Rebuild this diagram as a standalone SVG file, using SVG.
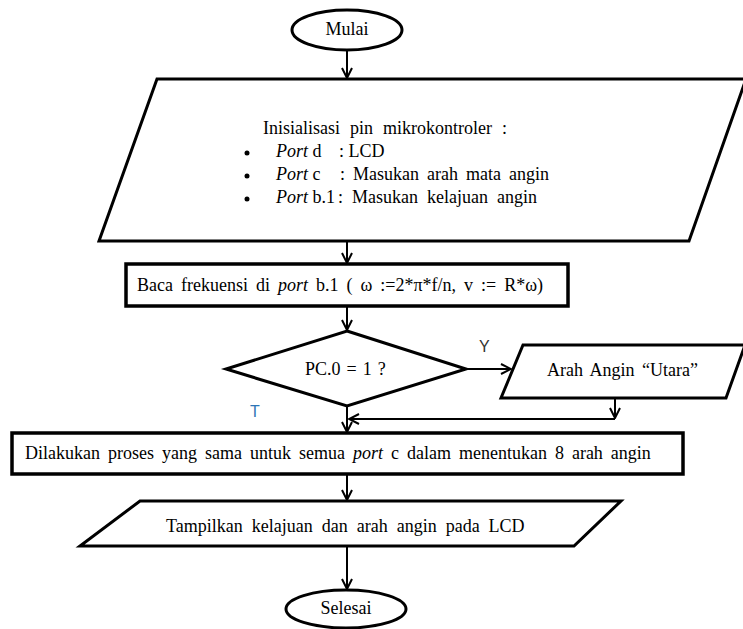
<svg xmlns="http://www.w3.org/2000/svg" width="743" height="629" viewBox="0 0 743 629">
<style>
.s{fill:#fff;stroke:#000;stroke-width:3}
.b{fill:#fff;stroke:#000;stroke-width:3.5}
.t{font-family:"Liberation Serif","Times New Roman",serif;font-size:18px;fill:#000}
.c{stroke:#000;stroke-width:2;fill:none}
.i{font-style:italic}
.l{font-family:"Liberation Sans",Arial,sans-serif;font-size:16px}
</style>
<defs>
<marker id="a" viewBox="0 0 12 12" refX="11" refY="6" markerWidth="12" markerHeight="12" markerUnits="userSpaceOnUse" orient="auto">
<polyline points="1,1 11,6 1,11" fill="none" stroke="#000" stroke-width="2"/>
</marker>
</defs>
<rect width="743" height="629" fill="#fff"/>
<g id="connectors">
<line class="c" x1="347" y1="50" x2="347" y2="78" marker-end="url(#a)"/>
<line class="c" x1="347" y1="241" x2="347" y2="263" marker-end="url(#a)"/>
<line class="c" x1="347" y1="307" x2="347" y2="330" marker-end="url(#a)"/>
<line class="c" x1="467" y1="369" x2="511" y2="369" marker-end="url(#a)"/>
<line class="c" x1="347" y1="406" x2="347" y2="432" marker-end="url(#a)"/>
<line class="c" x1="615" y1="399" x2="615" y2="418" marker-end="url(#a)"/>
<line class="c" x1="615" y1="419" x2="349" y2="419" marker-end="url(#a)"/>
<line class="c" x1="347" y1="475" x2="347" y2="500" marker-end="url(#a)"/>
<line class="c" x1="347" y1="547" x2="347" y2="589" marker-end="url(#a)"/>
<text class="l" x="479" y="352" fill="#333">Y</text>
<text class="l" x="250" y="417" fill="#2e75b6">T</text>
</g>
<g id="mulai">
<ellipse class="s" cx="347" cy="30" rx="55" ry="20"/>
<text class="t" x="347" y="35" text-anchor="middle">Mulai</text>
</g>
<g id="init">
<polygon class="s" points="157,79 746,79 689,241 99,241"/>
<text class="t" x="263" y="134" style="word-spacing:5.5px">Inisialisasi pin mikrokontroler :</text>
<circle cx="247" cy="153" r="2.5"/>
<circle cx="247" cy="176" r="2.5"/>
<circle cx="247" cy="199" r="2.5"/>
<text class="t" x="276" y="157"><tspan class="i">Port</tspan> d</text>
<text class="t" x="339" y="157">: LCD</text>
<text class="t" x="276" y="180"><tspan class="i">Port</tspan> c</text>
<text class="t" x="340" y="180" style="word-spacing:3.5px">: Masukan arah mata angin</text>
<text class="t" x="276" y="203"><tspan class="i">Port</tspan> b.1</text>
<text class="t" x="338" y="203" style="word-spacing:4.5px">: Masukan kelajuan angin</text>
</g>
<g id="baca">
<rect class="b" x="126" y="264" width="442" height="42"/>
<text class="t" x="137" y="291" style="word-spacing:3.5px">Baca frekuensi di <tspan class="i">port</tspan> b.1 ( ω :=2*π*f/n, v := R*ω)</text>
</g>
<g id="decision">
<polygon class="s" points="347,331 466,369 347,406 226,369"/>
<text class="t" x="305" y="375" style="word-spacing:1.5px">PC.0 = 1 ?</text>
</g>
<g id="utara">
<polygon class="s" points="523,345 745,345 726,398 501,398"/>
<text class="t" x="547" y="376" style="word-spacing:3px">Arah Angin “Utara”</text>
</g>
<g id="proses">
<rect class="b" x="12" y="433" width="671" height="41"/>
<text class="t" x="25" y="459" style="word-spacing:3.5px">Dilakukan proses yang sama untuk semua <tspan class="i">port</tspan> c dalam menentukan 8 arah angin</text>
</g>
<g id="tampil">
<polygon class="s" points="140,501 621,501 574,546 80,546"/>
<text class="t" x="166" y="532" style="word-spacing:4.5px">Tampilkan kelajuan dan arah angin pada LCD</text>
</g>
<g id="selesai">
<ellipse class="s" cx="346" cy="609" rx="60" ry="19"/>
<text class="t" x="346" y="614" text-anchor="middle">Selesai</text>
</g>
</svg>
